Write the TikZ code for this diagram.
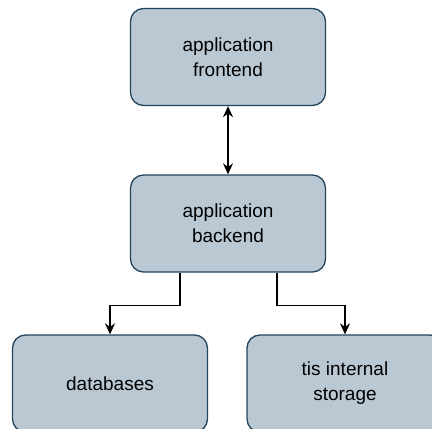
\documentclass[tikz,border=0pt]{standalone}
\usepackage{fontspec}
\setmainfont{Liberation Sans}
\usepackage{xcolor}
\usepackage{tikz}
\usetikzlibrary{arrows.meta, positioning}
\definecolor{boxfill}{HTML}{BAC8D3}
\definecolor{boxline}{HTML}{23445D}

\begin{document}
\begin{tikzpicture}[x=1pt, y=-1pt,
    block/.style={draw=boxline, fill=boxfill, line width=1.3pt, rounded corners=13pt,
      minimum width=195pt, minimum height=97pt, align=center, inner sep=0pt,
      font=\fontsize{19}{25}\selectfont},
    link/.style={line width=1.5pt, -{Stealth[length=11pt, width=10pt]}}]
    \useasboundingbox (0,0) rectangle (432,429);
    \node[block] (front) at (228,57) {application\\frontend};
    \node[block] (back) at (228,223.5) {application\\backend};
    \node[block] (db) at (110,383.5) {databases};
    \node[block, minimum width=196pt] (store) at (345,383.5) {tis internal\\storage};
    \draw[line width=1.5pt, {Stealth[length=11pt, width=10pt]}-{Stealth[length=11pt, width=10pt]}] (front) -- (back);
    \draw[link] ([xshift=-48pt]back.south) -- ++(0,33) -| (db.north);
    \draw[link] ([xshift=49pt]back.south) -- ++(0,33) -| (store.north);
  \end{tikzpicture}
\end{document}
